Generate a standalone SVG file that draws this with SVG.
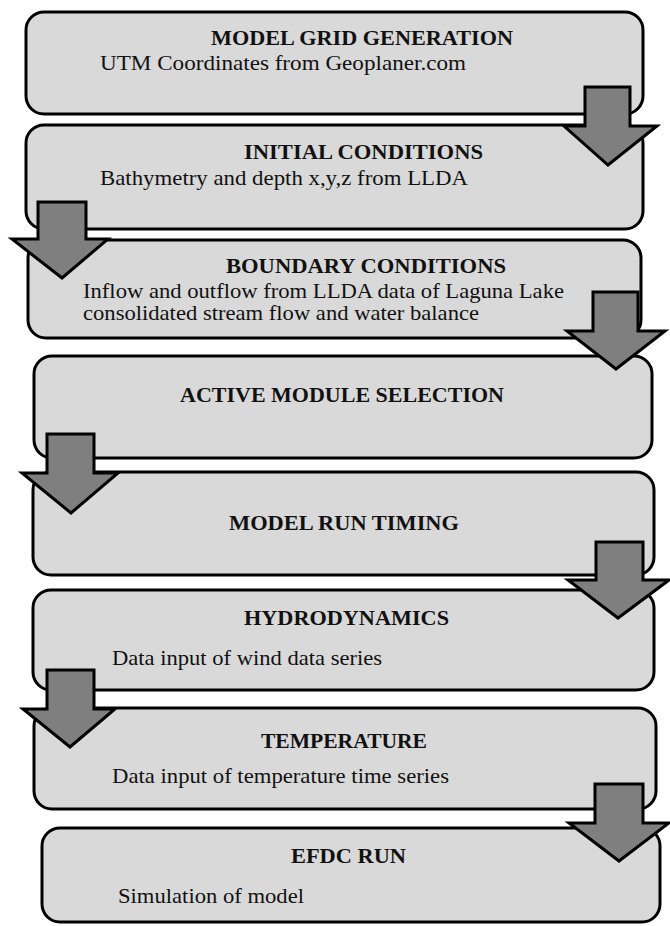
<svg xmlns="http://www.w3.org/2000/svg" width="670" height="926" viewBox="0 0 670 926">
<style>
.box{fill:#d9d9d9;stroke:#000;stroke-width:3}
.arr{fill:#7f7f7f;stroke:#000;stroke-width:3;stroke-linejoin:miter}
.t{font-family:"Liberation Serif","Times New Roman",serif;font-weight:bold;font-size:21px;fill:#111}
.s{font-family:"Liberation Serif","Times New Roman",serif;font-size:21px;fill:#111}
</style>
<rect width="670" height="926" fill="#fff"/>
<g id="n1"><rect class="box" x="26" y="12" width="617" height="102" rx="18"/>
<text class="t" x="211" y="45" textLength="302" lengthAdjust="spacingAndGlyphs">MODEL GRID GENERATION</text>
<text class="s" x="100" y="70" textLength="366" lengthAdjust="spacingAndGlyphs">UTM Coordinates from Geoplaner.com</text></g>
<g id="n2"><rect class="box" x="26" y="125" width="617" height="104" rx="18"/>
<text class="t" x="244" y="159" textLength="239" lengthAdjust="spacingAndGlyphs">INITIAL CONDITIONS</text>
<text class="s" x="100" y="185" textLength="368" lengthAdjust="spacingAndGlyphs">Bathymetry and depth x,y,z from LLDA</text></g>
<g id="n3"><rect class="box" x="28" y="240" width="613" height="98" rx="18"/>
<text class="t" x="226" y="273" textLength="280" lengthAdjust="spacingAndGlyphs">BOUNDARY CONDITIONS</text>
<text class="s" x="83" y="298" textLength="481" lengthAdjust="spacingAndGlyphs">Inflow and outflow from LLDA data of Laguna Lake</text>
<text class="s" x="83" y="320" textLength="396" lengthAdjust="spacingAndGlyphs">consolidated stream flow and water balance</text></g>
<g id="n4"><rect class="box" x="34" y="356" width="618" height="102" rx="18"/>
<text class="t" x="180" y="402" textLength="324" lengthAdjust="spacingAndGlyphs">ACTIVE MODULE SELECTION</text></g>
<g id="n5"><rect class="box" x="33" y="472" width="621" height="103" rx="18"/>
<text class="t" x="229" y="530" textLength="230" lengthAdjust="spacingAndGlyphs">MODEL RUN TIMING</text></g>
<g id="n6"><rect class="box" x="33" y="590" width="621" height="100" rx="18"/>
<text class="t" x="244" y="625" textLength="205" lengthAdjust="spacingAndGlyphs">HYDRODYNAMICS</text>
<text class="s" x="112" y="665" textLength="270" lengthAdjust="spacingAndGlyphs">Data input of wind data series</text></g>
<g id="n7"><rect class="box" x="34" y="708" width="622" height="101" rx="18"/>
<text class="t" x="261" y="748" textLength="166" lengthAdjust="spacingAndGlyphs">TEMPERATURE</text>
<text class="s" x="112" y="783" textLength="337" lengthAdjust="spacingAndGlyphs">Data input of temperature time series</text></g>
<g id="n8"><rect class="box" x="42" y="828" width="618" height="94" rx="18"/>
<text class="t" x="291" y="863" textLength="115" lengthAdjust="spacingAndGlyphs">EFDC RUN</text>
<text class="s" x="118" y="903" textLength="186" lengthAdjust="spacingAndGlyphs">Simulation of model</text></g>
<g id="connectors">
<polygon class="arr" points="585,87 630,87 630,126 657,126 608,165 564,126 585,126"/>
<polygon class="arr" points="38,202 86,202 86,239 108,239 62,278 12,239 38,239"/>
<polygon class="arr" points="593,292 638,292 638,331 665,331 616,369 567,331 593,331"/>
<polygon class="arr" points="47,434 94,434 94,473 118,473 71,513 22,473 47,473"/>
<polygon class="arr" points="596,542 643,542 643,580 669,580 618,618 568,580 596,580"/>
<polygon class="arr" points="47,670 94,670 94,709 115,709 70,747 23,709 47,709"/>
<polygon class="arr" points="595,784 643,784 643,823 669,823 619,861 569,823 595,823"/>
</g>
</svg>
